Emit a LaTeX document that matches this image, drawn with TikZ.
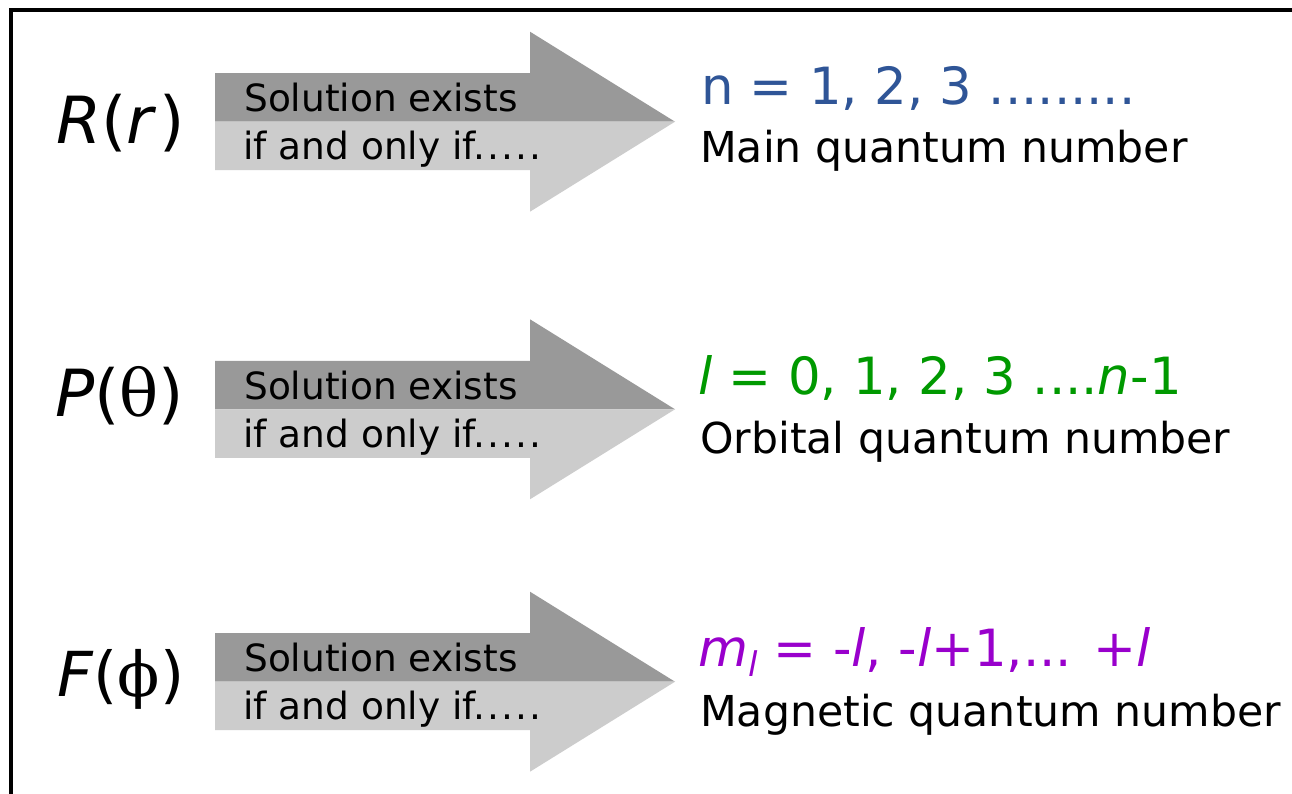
\documentclass[tikz,border=0pt]{standalone}
\usepackage{fontspec}
\setmainfont{DejaVu Sans}
\newfontfamily\grkfont{DejaVu Serif}
\definecolor{arrdark}{HTML}{999999}
\definecolor{arrlight}{HTML}{CCCCCC}
\definecolor{qblue}{HTML}{2F5597}
\definecolor{qgreen}{HTML}{009900}
\definecolor{qpurple}{HTML}{9900CC}
\newcommand{\wdot}{.\hspace{2pt}}
\tikzset{
  armtext/.style={anchor=base west, inner sep=0pt, font=\fontsize{37.5}{45}\selectfont},
  valtext/.style={anchor=base west, inner sep=0pt, font=\fontsize{51.3}{57}\selectfont},
  nametext/.style={anchor=base west, inner sep=0pt, font=\fontsize{42.6}{48}\selectfont},
  functext/.style={anchor=base west, inner sep=0pt, font=\fontsize{65}{72}\selectfont},
}
\begin{document}
\begin{tikzpicture}[x=1pt,y=-1pt]
\useasboundingbox (0,0) rectangle (1292,794);
\fill[white] (0,0) rectangle (1292,794);
\begin{scope}
  \clip (0,0) rectangle (1292,794);
  \draw[line width=3.4pt] (10.8,10) rectangle (1320,820);
\end{scope}
% arrows
\foreach \c in {121.7,409.3,681.7}{
  \fill[arrdark] (215,\c-48.5) -- (530,\c-48.5) -- (530,\c-90) -- (675,\c) -- (215,\c) -- cycle;
  \fill[arrlight] (215,\c) -- (675,\c) -- (530,\c+90) -- (530,\c+48.5) -- (215,\c+48.5) -- cycle;
}
% arrow texts
\node[armtext] (s1) at (244,111.7) {Solution exists};
\node[armtext] (i1) at (243,160) {if and only if\wdot\wdot\wdot\wdot.};
\node[armtext] (s2) at (244,399.3) {Solution exists};
\node[armtext] (i2) at (243,447.3) {if and only if\wdot\wdot\wdot\wdot.};
\node[armtext] (s3) at (244,671.7) {Solution exists};
\node[armtext] (i3) at (243,719.7) {if and only if\wdot\wdot\wdot\wdot.};
% function labels
\node[functext] (fr) at (56,143.3) {\textit{R}(\textit{r}\hspace{3pt})};
\node[functext] (fp) at (55,416.7) {\textit{P}({\grkfont θ})};
\node[functext, font=\fontsize{62}{70}\selectfont] (ff) at (57,696.7) {\textit{F}({\grkfont ϕ})};
% values
\node[valtext, text=qblue] (v1) at (701,104.3) {n = 1, 2, 3 .........};
\node[nametext] (q1) at (700,162.7) {Main quantum number};
\node[valtext, text=qgreen] (v2) at (698,394) {\textit{l} = 0, 1, 2, 3 ....\textit{n}-1};
\node[nametext] (q2) at (700,453) {Orbital quantum number};
\node[valtext, text=qpurple] (v3) at (698,666.7) {\textit{m}\raisebox{-10pt}{\fontsize{34}{34}\selectfont\textit{l}} = -\textit{l}, -\textit{l}+1,... +\textit{l}};
\node[nametext] (q3) at (700,726.7) {Magnetic quantum number};
\end{tikzpicture}
\end{document}
